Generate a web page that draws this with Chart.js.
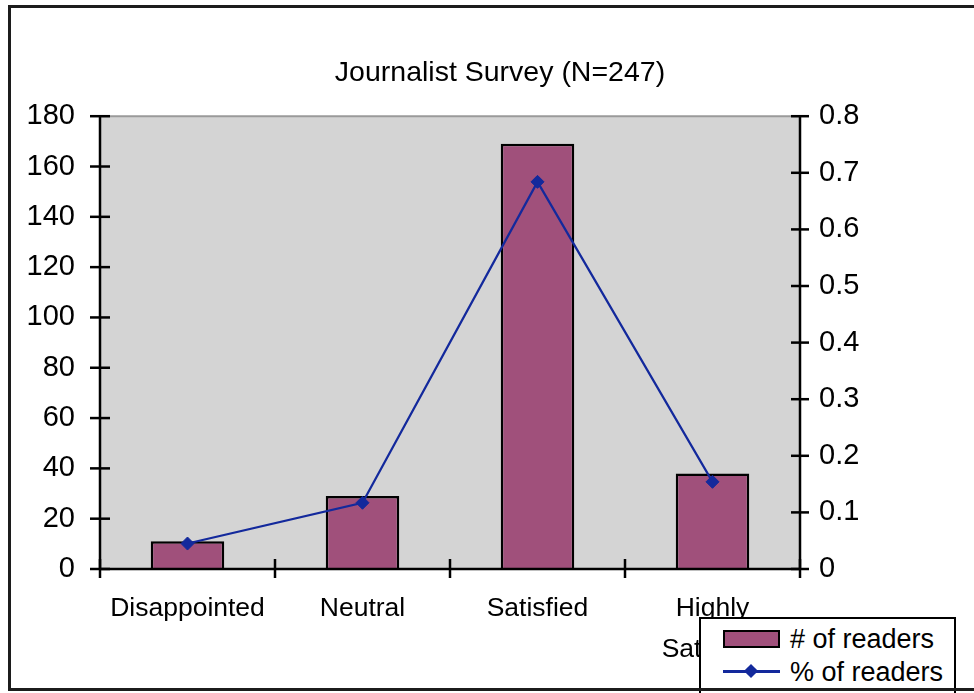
<!DOCTYPE html>
<html>
<head>
<meta charset="utf-8">
<script src="https://cdn.jsdelivr.net/npm/chart.js@4.4.0/dist/chart.umd.min.js"></script>
<style>
  html, body { margin: 0; padding: 0; background: #fff; }
  #wrap { position: relative; width: 974px; height: 693px; overflow: hidden;
          font-family: "Liberation Sans", Arial, sans-serif; }
  #c { position: absolute; left: 0; top: 0; }
  #frame { position: absolute; left: 8px; top: 5px; width: 1000px; height: 686px;
           border: 3px solid #1c1c1c; box-sizing: border-box; pointer-events: none; }
  #legend { position: absolute; left: 699px; top: 617px; width: 257px; height: 90px;
            background: #fff; border: 2px solid #000; box-sizing: border-box; }
  #legend .sw { position: absolute; left: 22px; width: 57px; height: 18px;
                border: 2px solid #000; box-sizing: border-box; }
  #legend .ln { position: absolute; left: 22px; width: 57px; height: 3px; }
  #legend .dm { position: absolute; width: 10px; height: 10px; transform: rotate(45deg); }
  #legend .tx { position: absolute; left: 89px; font-size: 27px; line-height: 30px;
                color: #000; white-space: nowrap; }
</style>
</head>
<body>
<div id="wrap">
  <canvas id="c" width="974" height="693"></canvas>
  <div id="legend"></div>
  <div id="frame"></div>
</div>
<script>
// Survey categories and results
const categories = ['Disappointed', 'Neutral', 'Satisfied', ['Highly', 'Satisfied']];
const readerCounts = [11, 29, 169, 38];
const readerShares = [0.045, 0.117, 0.684, 0.154];

// Axis tick labels
const countTicks = ['0', '20', '40', '60', '80', '100', '120', '140', '160', '180'];
const shareTicks = ['0', '0.1', '0.2', '0.3', '0.4', '0.5', '0.6', '0.7', '0.8'];

const FONT = '"Liberation Sans", Arial, sans-serif';
const BAR_COLOR = '#A0507B';
const LINE_COLOR = '#13299C';

// Grey plot background
const plotBackground = {
  id: 'plotBackground',
  beforeDatasetsDraw(chart) {
    const { ctx, chartArea: a } = chart;
    ctx.save();
    ctx.fillStyle = '#D4D4D4';
    ctx.fillRect(a.left, a.top, a.right - a.left, a.bottom - a.top);
    ctx.strokeStyle = '#9A9A9A';
    ctx.lineWidth = 2;
    ctx.beginPath();
    ctx.moveTo(a.left, a.top);
    ctx.lineTo(a.right, a.top);
    ctx.stroke();
    ctx.restore();
  }
};

// Axis lines with tick marks that cross the axis
const axisMarks = {
  id: 'axisMarks',
  afterDatasetsDraw(chart) {
    const { ctx, chartArea: a, scales } = chart;
    ctx.save();
    ctx.strokeStyle = '#000';
    ctx.lineWidth = 2.5;
    const seg = (x1, y1, x2, y2) => {
      ctx.beginPath(); ctx.moveTo(x1, y1); ctx.lineTo(x2, y2); ctx.stroke();
    };
    seg(a.left, a.top, a.left, a.bottom);
    seg(a.right, a.top, a.right, a.bottom);
    seg(a.left, a.bottom, a.right, a.bottom);
    scales.y.ticks.forEach(t => {
      const y = scales.y.getPixelForValue(t.value);
      seg(a.left - 10, y, a.left + 10, y);
    });
    scales.y1.ticks.forEach(t => {
      const y = scales.y1.getPixelForValue(t.value);
      seg(a.right - 9, y, a.right + 9, y);
    });
    for (let i = 0; i <= categories.length; i++) {
      const x = scales.x.getPixelForValue(i - 0.5);
      seg(x, a.bottom - 10, x, a.bottom + 9);
    }
    ctx.restore();
  }
};

const chart = new Chart(document.getElementById('c'), {
  data: {
    labels: categories,
    datasets: [
      {
        type: 'line',
        label: '% of readers',
        data: readerShares,
        yAxisID: 'y1',
        order: 0,
        borderColor: LINE_COLOR,
        backgroundColor: LINE_COLOR,
        borderWidth: 2.2,
        tension: 0,
        pointStyle: 'rectRot',
        pointRadius: 6.5,
        pointBackgroundColor: LINE_COLOR,
        pointBorderColor: LINE_COLOR,
        pointBorderWidth: 1
      },
      {
        type: 'bar',
        label: '# of readers',
        data: readerCounts,
        yAxisID: 'y',
        order: 1,
        backgroundColor: BAR_COLOR,
        borderColor: '#000',
        borderWidth: 2.5,
        barPercentage: 0.42,
        categoryPercentage: 1
      }
    ]
  },
  options: {
    responsive: false,
    animation: false,
    devicePixelRatio: 1,
    layout: { padding: { left: 26, top: 0, right: 0, bottom: 0 } },
    plugins: {
      legend: { display: false },
      tooltip: { enabled: false },
      title: {
        display: true,
        text: 'Journalist Survey (N=247)',
        color: '#000',
        font: { family: FONT, size: 28.5, weight: 'normal' },
        padding: { top: 56, bottom: 26 }
      }
    },
    scales: {
      x: {
        offset: true,
        grid: { display: false, drawTicks: false },
        border: { display: false },
        ticks: {
          color: '#000',
          autoSkip: false,
          maxRotation: 0,
          padding: 20,
          font: { family: FONT, size: 26.5, lineHeight: 1.52 }
        },
        afterFit(s) { s.height = 124; }
      },
      y: {
        position: 'left',
        min: 0,
        max: 180,
        grid: { display: false, drawTicks: false },
        border: { display: false },
        afterBuildTicks(s) { s.ticks = countTicks.map(v => ({ value: Number(v) })); },
        ticks: {
          color: '#000',
          padding: 25,
          font: { family: FONT, size: 29 },
          callback: (v, i) => countTicks[i]
        },
        afterFit(s) { s.width = 74; }
      },
      y1: {
        position: 'right',
        min: 0,
        max: 0.8,
        grid: { display: false, drawTicks: false },
        border: { display: false },
        afterBuildTicks(s) { s.ticks = shareTicks.map(v => ({ value: Number(v) })); },
        ticks: {
          color: '#000',
          padding: 19,
          font: { family: FONT, size: 29 },
          callback: (v, i) => shareTicks[i]
        },
        afterFit(s) { s.width = 174; }
      }
    }
  },
  plugins: [plotBackground, axisMarks]
});

// Legend box built from the chart's datasets
(function buildLegend() {
  const box = document.getElementById('legend');
  const bar = chart.data.datasets.find(d => d.type === 'bar');
  const line = chart.data.datasets.find(d => d.type === 'line');
  box.innerHTML =
    '<div class="sw" style="top:11px;background:' + bar.backgroundColor + '"></div>' +
    '<div class="tx" style="top:5px">' + bar.label + '</div>' +
    '<div class="ln" style="top:51px;background:' + line.borderColor + '"></div>' +
    '<div class="dm" style="left:45px;top:47px;background:' + line.borderColor + '"></div>' +
    '<div class="tx" style="top:38px">' + line.label + '</div>';
})();
</script>
</body>
</html>
